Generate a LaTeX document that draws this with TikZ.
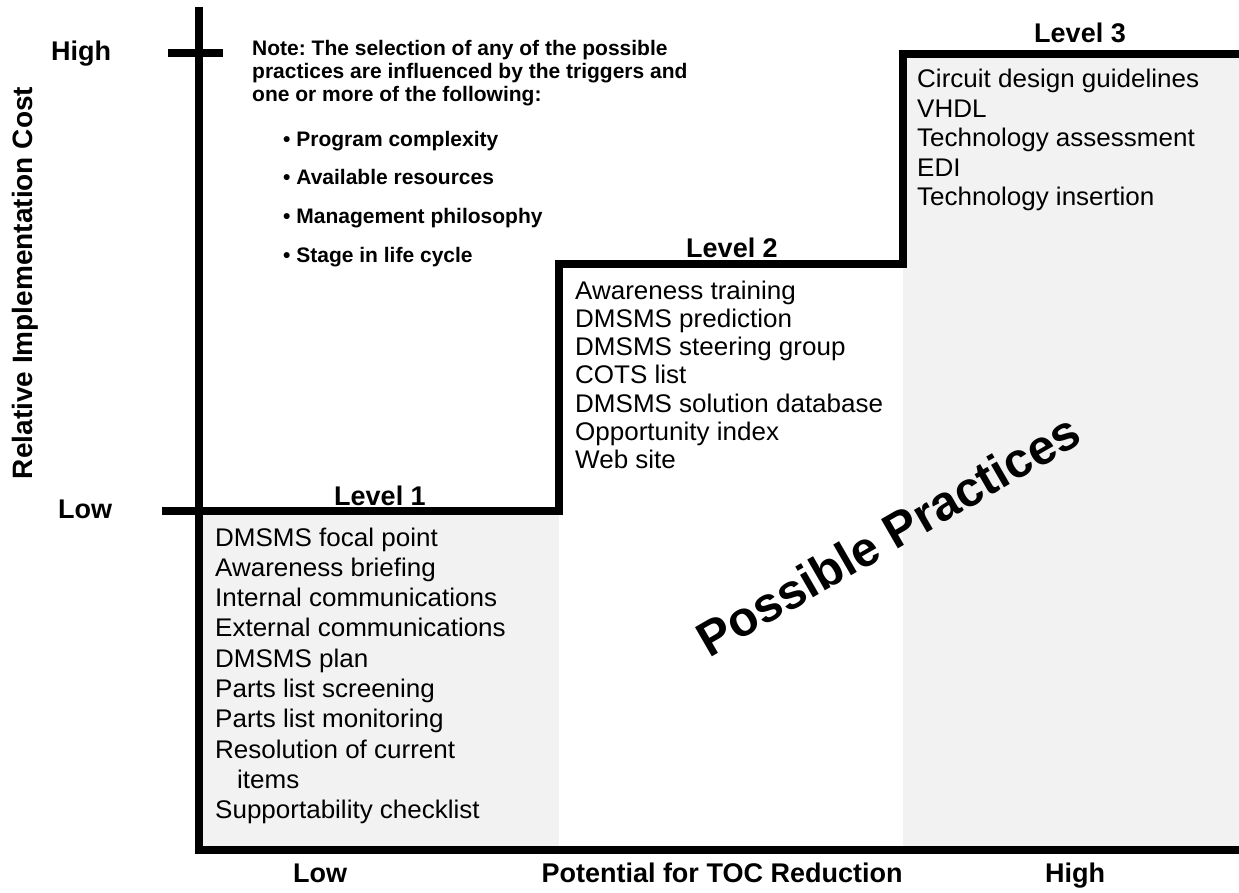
\documentclass[tikz,border=0pt]{standalone}
\usepackage{fontspec}
\setmainfont{Liberation Sans}
\newfontfamily\bodyfont[FakeStretch=1.02]{Liberation Sans}
\definecolor{panelgray}{HTML}{F2F2F2}
\frenchspacing
\tikzset{
  axisline/.style={line width=7.5pt, line join=miter},
  bodytext/.style={inner sep=0pt, anchor=base west, font=\fontsize{25.5}{29}\bodyfont},
  notetext/.style={inner sep=0pt, anchor=base west, font=\fontsize{21}{25}\selectfont\bfseries},
  labeltext/.style={inner sep=0pt, anchor=base, font=\fontsize{27}{30}\selectfont\bfseries},
}
\begin{document}
\begin{tikzpicture}[x=1pt,y=-1pt]
\useasboundingbox (0,0) rectangle (1239,893);
% panels
\fill[panelgray] (199,511) rectangle (559,850);
\fill[panelgray] (903,54) rectangle (1239,850);
% corner coordinates
\coordinate (ytop) at (199,7);
\coordinate (origin) at (199,850);
\coordinate (xend) at (1239,850);
\coordinate (hiL) at (168,53);
\coordinate (hiR) at (223,53);
\coordinate (s0) at (162,511);
\coordinate (s1) at (559,511);
\coordinate (s2) at (559,264);
\coordinate (s3) at (903,264);
\coordinate (s4) at (903,54);
\coordinate (s5) at (1243,54);
% axes and steps
\draw[axisline] (ytop) -- (origin) -- (xend);
\draw[axisline] (hiL) -- (hiR);
\draw[axisline] (s0) -- (s1) -- (s2) -- (s3) -- (s4) -- (s5);
% axis labels
\node[labeltext] (yhigh) at (81,61) {High};
\node[labeltext] (ylow) at (85,518) {Low};
\node[labeltext, rotate=90, font=\fontsize{28}{30}\selectfont\bfseries] (ylabel) at (32,283) {Relative Implementation Cost};
\node[labeltext] (xlow) at (320,882) {Low};
\node[labeltext] (xmid) at (722,882) {Potential for TOC Reduction};
\node[labeltext] (xhigh) at (1075,882) {High};
% level titles
\node[labeltext] (lev1) at (380,505) {Level 1};
\node[labeltext] (lev2) at (732,258) {Level 2};
\node[labeltext] (lev3) at (1080,43) {Level 3};
% note
\node[notetext] (n1) at (252,56) {Note: The selection of any of the possible};
\node[notetext] (n2) at (252,79) {practices are influenced by the triggers and};
\node[notetext] (n3) at (252,102) {one or more of the following:};
\node[notetext] (b1) at (283,147) {\textbullet\ Program complexity};
\node[notetext] (b2) at (283,185) {\textbullet\ Available resources};
\node[notetext] (b3) at (283,224) {\textbullet\ Management philosophy};
\node[notetext] (b4) at (283,262) {\textbullet\ Stage in life cycle};
% level 1 list
\foreach \t [count=\i from 0] in {DMSMS focal point, Awareness briefing, Internal communications, External communications, DMSMS plan, Parts list screening, Parts list monitoring, Resolution of current, {\hspace*{22pt}items}, Supportability checklist}
  \node[bodytext] (la\i) at (215,546+30.3*\i) {\t};
% level 2 list
\foreach \t [count=\i from 0] in {Awareness training, DMSMS prediction, DMSMS steering group, COTS list, DMSMS solution database, Opportunity index, Web site}
  \node[bodytext] (lb\i) at (575,299+28.3*\i) {\t};
% level 3 list
\foreach \t [count=\i from 0] in {Circuit design guidelines, VHDL, Technology assessment, EDI, Technology insertion}
  \node[bodytext] (lc\i) at (917,88+29.5*\i) {\t};
% watermark
\node[inner sep=0pt, anchor=base, rotate=30, font=\fontsize{49}{50}\selectfont\bfseries] (pp) at (897,550) {Possible Practices};
\end{tikzpicture}
\end{document}
